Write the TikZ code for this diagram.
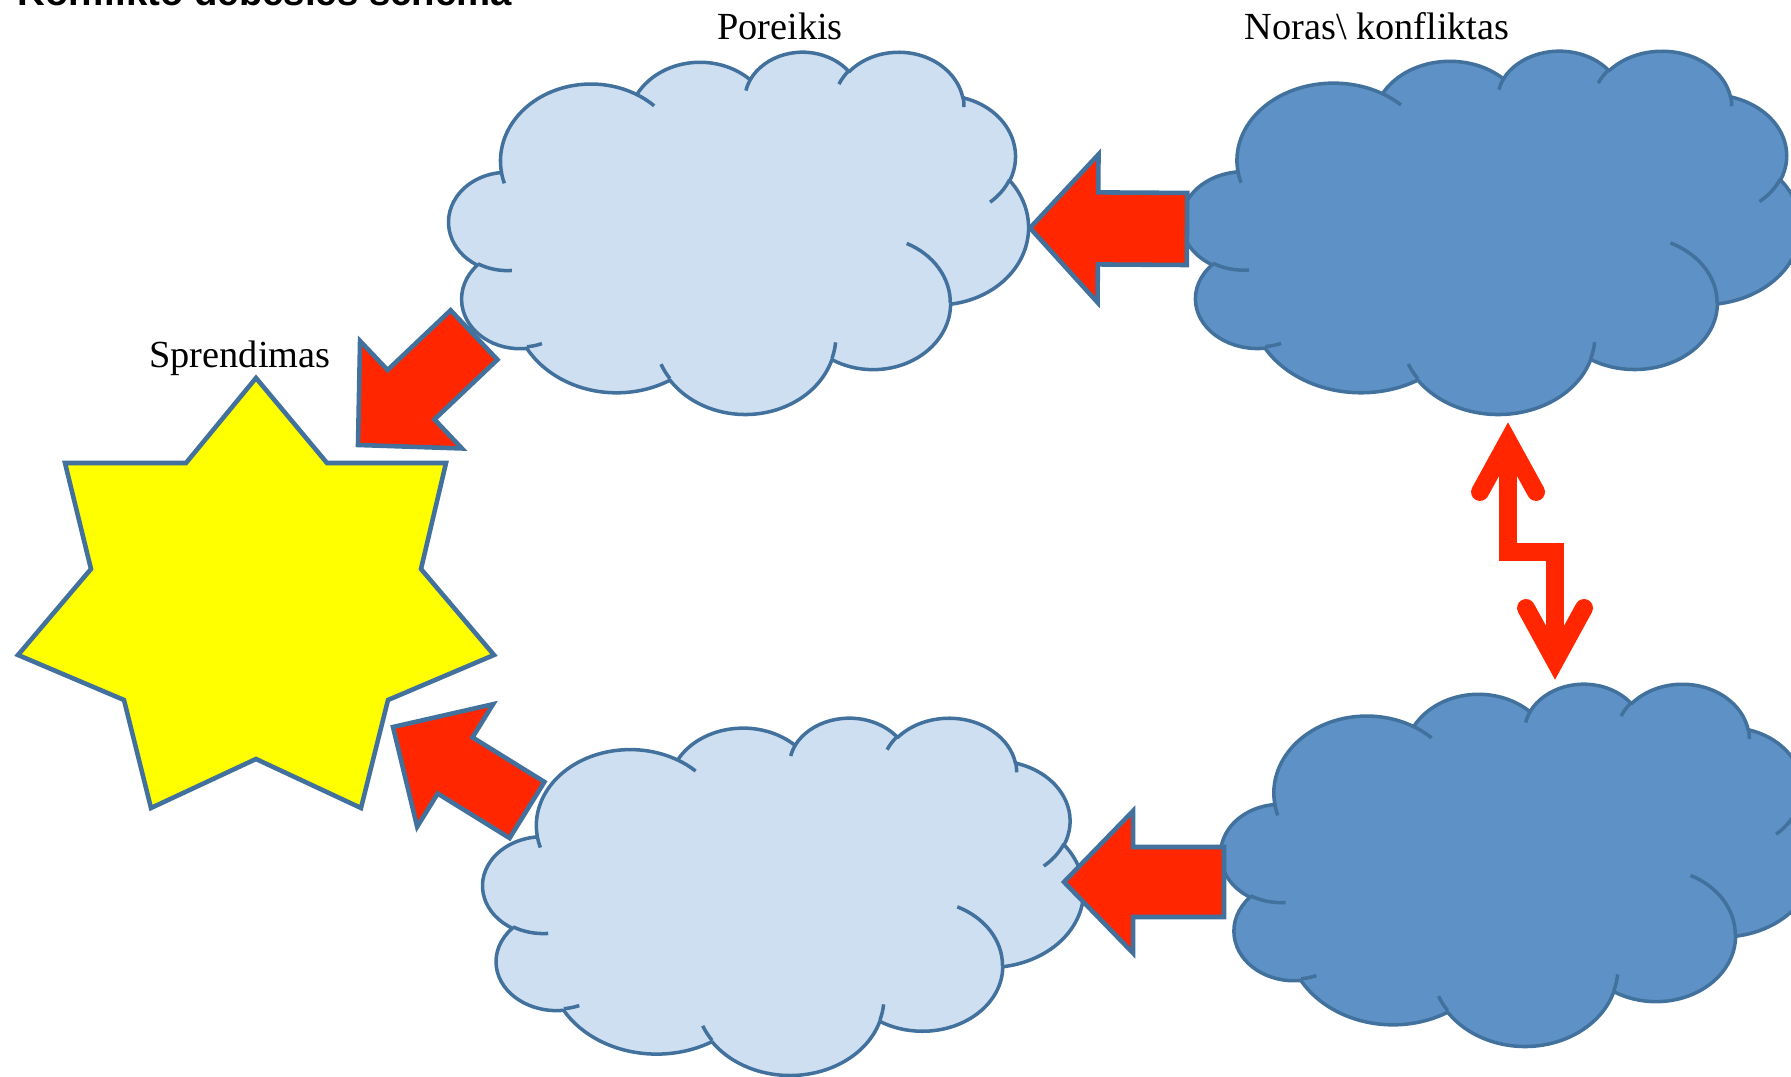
\documentclass[tikz,border=0pt]{standalone}
\usepackage{fontspec}
\setmainfont{Liberation Serif}
\newfontfamily\titlefont{Liberation Sans}
\usetikzlibrary{calc}
\definecolor{olblue}{RGB}{65,113,156}
\definecolor{cloudlight}{RGB}{206,223,241}
\definecolor{clouddark}{RGB}{94,146,198}
\definecolor{arrowred}{RGB}{255,38,0}
\definecolor{staryellow}{RGB}{255,255,0}
\tikzset{
  oarc/.style n args={4}{x radius=#1, y radius=#2,
    start angle={atan2(#1*sin(#3),#2*cos(#3))},
    delta angle={mod(atan2(#1*sin(#3+#4),#2*cos(#3+#4))-atan2(#1*sin(#3),#2*cos(#3))+720,360)}},
  cloudline/.style={draw=olblue, line width=1pt, line join=round},
  blockarrow/.style={draw=olblue, fill=arrowred, line width=1.3pt, line join=miter},
  bolt/.style={draw=arrowred, line width=5.1pt, line join=miter, line cap=round},
  starshape/.style={draw=olblue, fill=staryellow, line width=1.3pt, line join=miter},
  lbl/.style={font=\fontsize{10.9}{13}\selectfont, inner sep=0pt},
}
\newcommand\officecloud[6]{% name, x0, y0, w, h, fill
  \pgfmathsetmacro\cloudxu{#4/432}%
  \pgfmathsetmacro\cloudyu{#5/432}%
  \begin{scope}[shift={(#2,#3)}, x=\cloudxu cm, y=-\cloudyu cm]
    \coordinate (#1) at (2.16,2.16);
    \filldraw[cloudline, fill=#6] (0.3900,1.4370)
      arc[oarc={0.6753}{0.9190}{-190.48748}{123.78053}]
      arc[oarc={0.5333}{0.7267}{-144.10238}{89.94523}]
      arc[oarc={0.4365}{0.5945}{-145.80792}{99.72302}]
      arc[oarc={0.4857}{0.6595}{-130.98607}{117.24173}]
      arc[oarc={0.5333}{0.7273}{-78.70888}{109.02692}]
      arc[oarc={0.6775}{0.9220}{-46.26725}{130.26900}]
      arc[oarc={0.5785}{0.7867}{0.62502}{114.03333}]
      arc[oarc={0.6752}{0.9215}{22.45160}{115.17255}]
      arc[oarc={0.7720}{1.0543}{66.24263}{75.71102}]
      arc[oarc={0.4360}{0.5918}{-274.94208}{146.73557}]
      arc[oarc={0.4345}{0.5945}{-246.82850}{152.51885}]
      -- cycle;
    \draw[cloudline]
      (0.4693,2.6177) arc[oarc={0.4345}{0.5945}{86.74200}{26.42950}]
      (0.6928,3.4899) arc[oarc={0.4360}{0.5918}{73.61047}{11.44747}]
      (1.6478,3.9090) arc[oarc={0.6752}{0.9215}{137.62415}{14.08110}]
      (2.8827,3.4751) arc[oarc={0.6752}{0.9215}{6.45327}{15.99835}]
      (3.4129,2.2954) arc[oarc={0.5785}{0.7867}{-70.29235}{70.91737}]
      (4.1798,1.5354) arc[oarc={0.5333}{0.7273}{30.31803}{27.75150}]
      (3.8324,0.5426) arc[oarc={0.4857}{0.6595}{-13.74433}{14.85890}]
      (2.9078,0.3952) arc[oarc={0.4857}{0.6595}{-149.18145}{18.19537}]
      (2.2141,0.4720) arc[oarc={0.4365}{0.5945}{-163.49427}{17.68635}]
      (1.4000,0.5192) arc[oarc={0.6753}{0.9190}{-66.70695}{12.31935}]
      (0.4127,1.5789) arc[oarc={0.6753}{0.9190}{157.65435}{11.85817}];
  \end{scope}
}
\newcommand\blockarrow[5]{% tip, tail, half shaft, half head, head length
  \coordinate (ba-h) at ($(#1)!#5!(#2)$);
  \filldraw[blockarrow] (#1) -- ($(ba-h)!#4!90:(#2)$) -- ($(ba-h)!#3!90:(#2)$)
    -- ($(#2)!#3!-90:(ba-h)$) -- ($(#2)!#3!90:(ba-h)$)
    -- ($(ba-h)!#3!-90:(#2)$) -- ($(ba-h)!#4!-90:(#2)$) -- cycle;
}
\begin{document}
\begin{tikzpicture}[x=0.01cm, y=-0.01cm]
\useasboundingbox (0,0) rectangle (1791,1077);
% clouds
\officecloud{needtop}{449}{51}{579}{362}{cloudlight}
\officecloud{wishtop}{1182}{50}{618}{363}{clouddark}
\officecloud{needbot}{483}{717}{600}{357}{cloudlight}
\officecloud{wishbot}{1221}{683}{594}{362}{clouddark}
% star
\coordinate (star) at (256,600);
\filldraw[starshape] (256,378) -- (327,463) -- (446,463) -- (421,569) -- (494,655)
  -- (388,700) -- (361,808) -- (256,759) -- (151,808) -- (124,700) -- (18,655)
  -- (91,569) -- (65,463) -- (186,463) -- cycle;
% block arrows
\coordinate (a1tip) at (1030,228);  \coordinate (a1tail) at (1187,229);
\coordinate (a2tip) at (1064,882);  \coordinate (a2tail) at (1224,882);
\coordinate (a3tip) at (358,445);   \coordinate (a3tail) at (474,335);
\coordinate (a4tip) at (393,727);   \coordinate (a4tail) at (527,810);
\blockarrow{a1tip}{a1tail}{0.36cm}{0.74cm}{0.68cm}
\blockarrow{a2tip}{a2tail}{0.35cm}{0.71cm}{0.69cm}
\blockarrow{a3tip}{a3tail}{0.34cm}{0.74cm}{0.73cm}
\blockarrow{a4tip}{a4tail}{0.33cm}{0.72cm}{0.73cm}
% lightning double arrow
\coordinate (bolttop) at (1508,441);
\coordinate (boltbot) at (1555,661);
\draw[bolt, line cap=butt] (bolttop) -- (1508,552) -- (1555,552) -- (boltbot);
\draw[bolt] ($(bolttop)+(-28,51)$) -- (bolttop) -- ($(bolttop)+(28,51)$);
\draw[bolt] ($(boltbot)+(-29,-53)$) -- (boltbot) -- ($(boltbot)+(29,-53)$);
% labels
\node[lbl, anchor=base] (poreikis) at (780,40) {Poreikis};
\node[lbl, anchor=base] (noras) at (1377,40) {Noras\textbackslash{} konfliktas};
\node[lbl, anchor=base] (sprendimas) at (240,368) {Sprendimas};
\node[inner sep=0pt, anchor=base west, font=\titlefont\bfseries\fontsize{10.9}{13}\selectfont] (title) at (17,6) {Konflikto debesies schema};
\end{tikzpicture}
\end{document}
